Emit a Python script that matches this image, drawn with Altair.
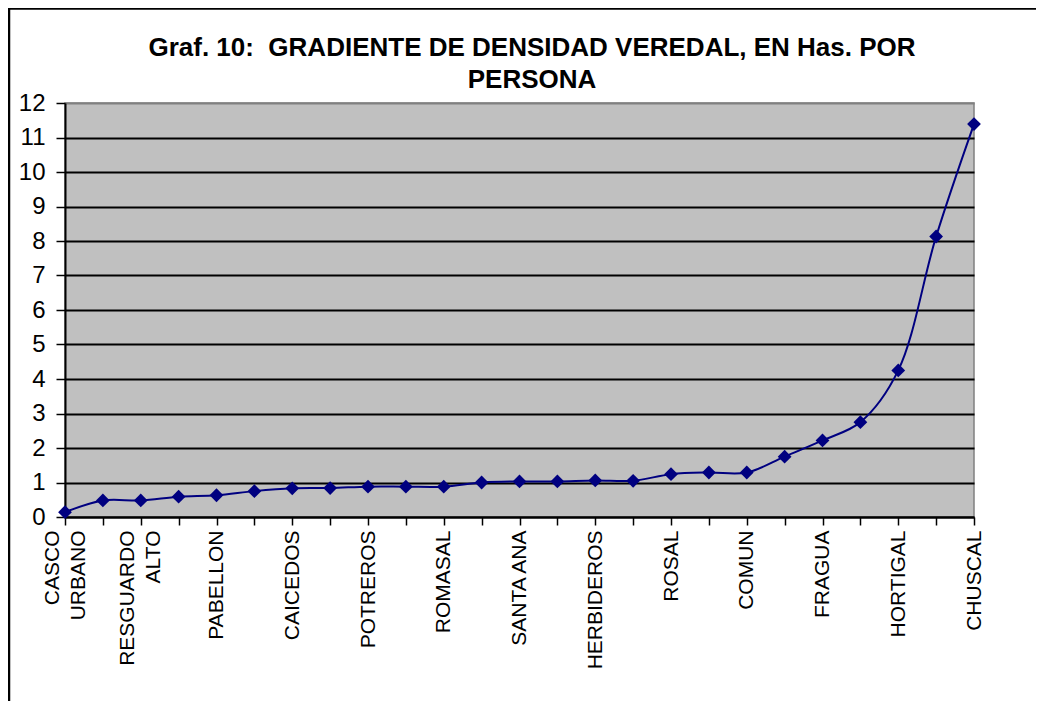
import json
import altair as alt
import pandas as pd

# ---- data ----
veredas = [
    "CASCO URBANO", "", "RESGUARDO ALTO", "", "PABELLON", "", "CAICEDOS", "",
    "POTREROS", "", "ROMASAL", "", "SANTA ANA", "", "HERBIDEROS", "", "ROSAL", "",
    "COMUN", "", "FRAGUA", "", "HORTIGAL", "", "CHUSCAL",
]
tick_labels = [
    "CASCO|URBANO", "", "RESGUARDO|ALTO", "", "PABELLON", "", "CAICEDOS", "",
    "POTREROS", "", "ROMASAL", "", "SANTA ANA", "", "HERBIDEROS", "", "ROSAL", "",
    "COMUN", "", "FRAGUA", "", "HORTIGAL", "", "CHUSCAL",
]
has_por_persona = [
    0.14, 0.48, 0.48, 0.59, 0.63, 0.75, 0.83, 0.84, 0.88, 0.88, 0.88, 1.00, 1.03,
    1.03, 1.06, 1.05, 1.24, 1.29, 1.29, 1.75, 2.22, 2.75, 4.25, 8.13, 11.39,
]
y_ticks = list(range(0, 13))
title_lines = ["Graf. 10:\u00a0 GRADIENTE DE DENSIDAD VEREDAL, EN Has. POR", "PERSONA"]

df = pd.DataFrame({
    "idx": list(range(len(has_por_persona))),
    "vereda": veredas,
    "valor": has_por_persona,
})

FONT = "Liberation Sans"
NAVY = "#000080"

labels_js = json.dumps(tick_labels)
label_expr = "split(" + labels_js + "[datum.value], '|')"
multi_test = "indexof(" + labels_js + "[datum.value], '|') >= 0"

x_enc = alt.X(
    "idx:Q",
    scale=alt.Scale(domain=[0, len(has_por_persona) - 1], nice=False, zero=False),
    axis=alt.Axis(
        title=None, values=list(range(len(has_por_persona))), grid=False,
        labelExpr=label_expr, labelAngle=-90, labelAlign="right",
        labelBaseline="middle", labelFontSize=21, labelFont=FONT,
        labelColor="black", labelPadding=5, labelLineHeight=26,
        labelOffset={"condition": {"test": multi_test, "value": -13}, "value": 0},
        labelOverlap=False, labelFlush=False, labelBound=False,
        tickSize=8, tickColor="black", tickWidth=1.5,
        domainColor="black", domainWidth=2,
    ),
)
y_enc = alt.Y(
    "valor:Q",
    scale=alt.Scale(domain=[0, 12], nice=False),
    axis=alt.Axis(
        title=None, values=y_ticks, tickCount=13, grid=True,
        gridColor={"condition": {"test": "datum.value >= 12", "value": "#808080"},
                   "value": "black"},
        gridWidth=1.8, gridOpacity=1,
        labelFontSize=24, labelFont=FONT, labelColor="black", labelPadding=11,
        labelOverlap=False, labelFlush=False, labelBound=False,
        tickSize=9, tickColor="black", tickWidth=1.5,
        domainColor="black", domainWidth=2,
    ),
)

base = alt.Chart(df).encode(x=x_enc, y=y_enc)
line = base.mark_line(color=NAVY, strokeWidth=2, interpolate="catmull-rom")
points = base.mark_point(
    shape="diamond", filled=True, color=NAVY, size=190, opacity=1
).encode(tooltip=["vereda", "valor"])

one_row = pd.DataFrame({"k": [0]})
frame_left = alt.Chart(one_row).mark_rule(color="black", strokeWidth=2.5).encode(
    x=alt.value(-56), y=alt.value(-95), y2=alt.value(720)
)
frame_top = alt.Chart(one_row).mark_rule(color="black", strokeWidth=2.5).encode(
    x=alt.value(-57), x2=alt.value(1000), y=alt.value(-94.5)
)
title_text = alt.Chart(one_row).mark_text(
    font=FONT, fontSize=26, fontWeight="bold", color="black", align="center",
    baseline="alphabetic", lineHeight=32,
).encode(
    x=alt.value(467), y=alt.value(-47), text=alt.value(title_lines)
)

chart = alt.layer(line, points, frame_left, frame_top, title_text).properties(
    width=909,
    height=414,
    autosize=alt.AutoSizeParams(type="none"),
    padding={"left": 57, "top": 95, "right": 62, "bottom": 195},
).configure(
    background="white",
    view=alt.ViewConfig(fill="#C0C0C0", stroke="#808080", strokeWidth=1.5),
)

chart.save("out.html", embed_options={"renderer": "svg", "actions": False})
